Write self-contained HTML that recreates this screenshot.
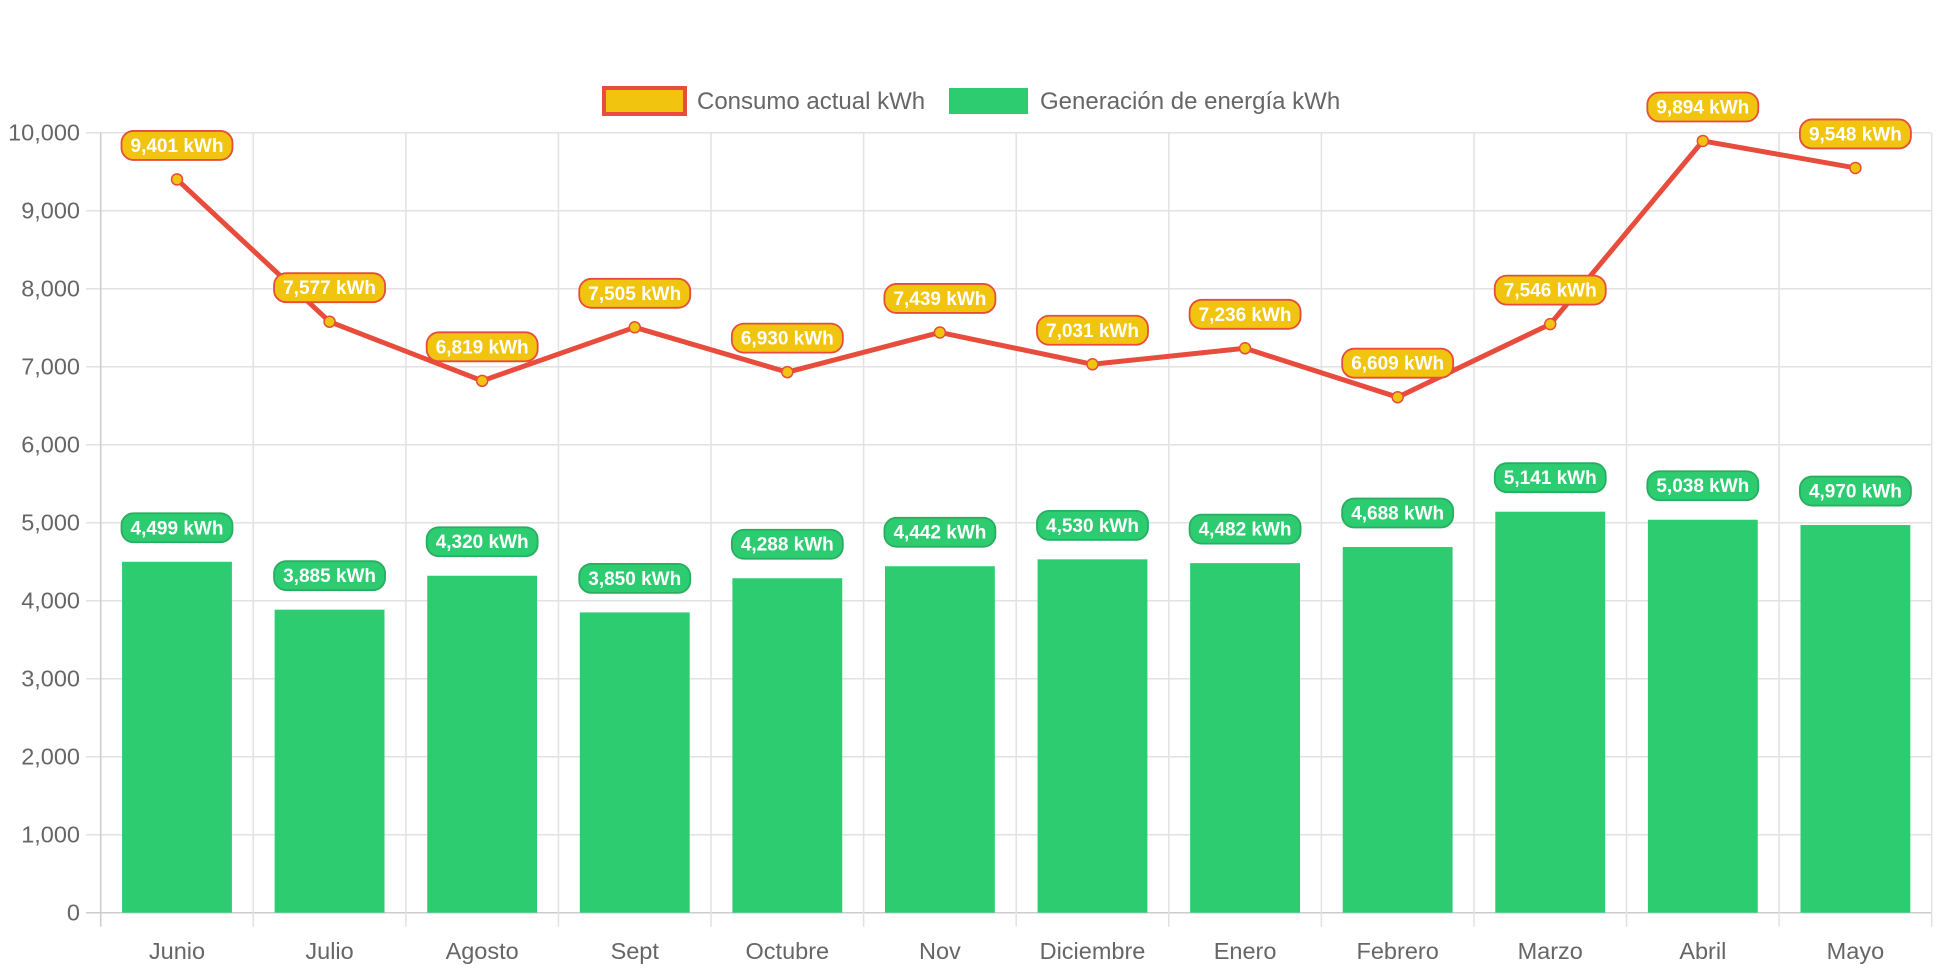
<!DOCTYPE html>
<html><head><meta charset="utf-8"><style>
html,body{margin:0;padding:0;background:#fff;}
svg{display:block;font-family:"Liberation Sans",Arial,sans-serif;}
</style></head><body>
<svg id="chart" width="1942" height="970"></svg>
<script>
const categories=["Junio","Julio","Agosto","Sept","Octubre","Nov","Diciembre","Enero","Febrero","Marzo","Abril","Mayo"];
const consumo=[9401,7577,6819,7505,6930,7439,7031,7236,6609,7546,9894,9548];
const generacion=[4499,3885,4320,3850,4288,4442,4530,4482,4688,5141,5038,4970];
const yTicks=[0,1000,2000,3000,4000,5000,6000,7000,8000,9000,10000];
const NS="http://www.w3.org/2000/svg";
const svg=document.getElementById('chart');
const L=100.7,R=1931.7,T=132.7,B=912.7,YMAX=10000;
const bw=(R-L)/categories.length;
const x=i=>L+bw*(i+0.5);
const y=v=>B-(v/YMAX)*(B-T);
function mk(tag,attrs,parent){const e=document.createElementNS(NS,tag);for(const k in attrs)e.setAttribute(k,attrs[k]);(parent||svg).appendChild(e);return e;}
const fmt=v=>v.toLocaleString('en-US');
yTicks.forEach(t=>{
 const g=mk('line',{x1:86,x2:R,y1:y(t),y2:y(t),stroke:t===0?'#ccc':'#e2e2e2','stroke-width':1.5});
 
 const tx=mk('text',{x:80,y:y(t)+8,'text-anchor':'end','font-size':23.5,fill:'#666'});tx.textContent=fmt(t);
 
});
for(let i=0;i<=categories.length;i++){
 const g=mk('line',{x1:L+bw*i,x2:L+bw*i,y1:T,y2:B+14,stroke:i===0?'#ccc':'#e2e2e2','stroke-width':1.5});
 
}
categories.forEach((c,i)=>{
 const tx=mk('text',{x:x(i),y:959,'text-anchor':'middle','font-size':23.5,fill:'#666'});tx.textContent=c;
 
});
const barW=bw*0.72;
generacion.forEach((v,i)=>{
 const r=mk('rect',{x:x(i)-barW/2,y:y(v),width:barW,height:B-y(v),fill:'#2ecc71'});
 
});
const pts=consumo.map((v,i)=>x(i)+','+y(v)).join(' ');
const pl=mk('polyline',{points:pts,fill:'none',stroke:'#e74c3c','stroke-width':5,'stroke-linejoin':'round'});

consumo.forEach((v,i)=>{
 const c=mk('circle',{cx:x(i),cy:y(v),r:5.5,fill:'#f1c40f',stroke:'#e74c3c','stroke-width':1.5});
 
});
function label(cx,cy,text,fill,stroke,name){
 const w=111,h=29;
 const r=mk('rect',{x:cx-w/2,y:cy-h/2,width:w,height:h,rx:12,fill:fill,stroke:stroke,'stroke-width':1.8});
 
 const t=mk('text',{x:cx,y:cy+6.5,'text-anchor':'middle','font-size':19,'font-weight':'bold',fill:'#fff'});t.textContent=text;
 
}
generacion.forEach((v,i)=>label(x(i),y(v)-34,fmt(v)+' kWh','#2ecc71','#27ae60','generation-value-label'));
consumo.forEach((v,i)=>label(x(i),y(v)-34,fmt(v)+' kWh','#f1c40f','#e74c3c','consumption-value-label'));
const lg=mk('g',{});
const b1=mk('rect',{x:604,y:88,width:81,height:26,fill:'#f1c40f',stroke:'#e74c3c','stroke-width':4},lg);

const t1=mk('text',{x:697,y:109,'font-size':24,fill:'#666'},lg);t1.textContent='Consumo actual kWh';

const b2=mk('rect',{x:949,y:88,width:79,height:26,fill:'#2ecc71'},lg);

const t2=mk('text',{x:1040,y:109,'font-size':24,fill:'#666'},lg);t2.textContent='Generación de energía kWh';

</script>
</body></html>
